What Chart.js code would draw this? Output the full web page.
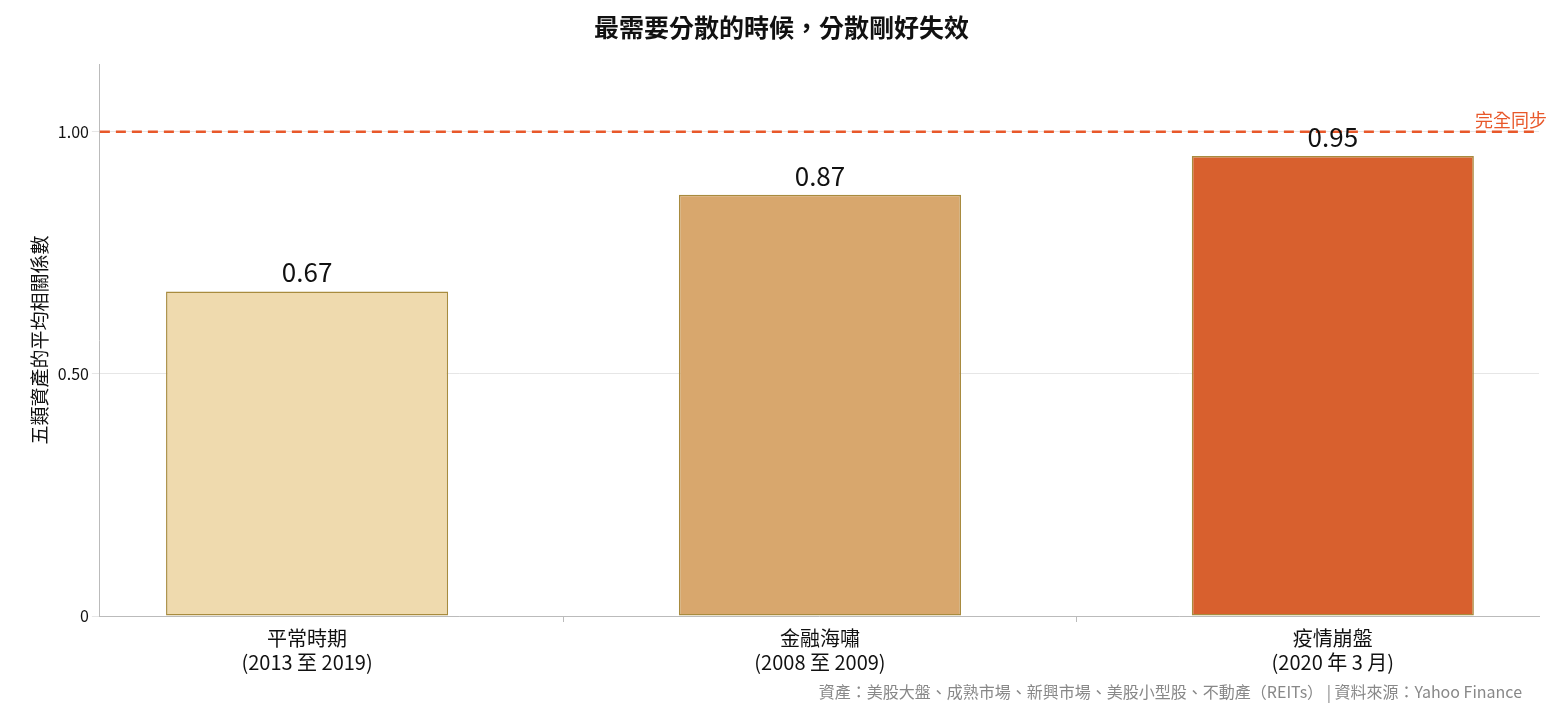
<!DOCTYPE html>
<html><head><meta charset="utf-8">
<script src="https://cdn.jsdelivr.net/npm/chart.js@4"></script>
<style>html,body{margin:0;padding:0;background:#fff}#w{width:1561px;height:716px;position:relative}</style>
</head><body><div id="w"><canvas id="c"></canvas></div>
<script>
const categories=[["平常時期","(2013 至 2019)"],["金融海嘯","(2008 至 2009)"],["疫情崩盤","(2020 年 3 月)"]];
const values=[0.67,0.87,0.95];
const valueLabels=["0.67","0.87","0.95"];
const colors=["#EFDAAE","#D8A76D","#D8602E"];
const refValue=1.0;
const refLabel="完全同步";
const yTicks=[0,0.5,1.0];
const yTickLabels=["0","0.50","1.00"];
const F='"Noto Sans CJK TC","Noto Sans",sans-serif';
const plug={id:'p',afterDatasetsDraw(ch){
 const {ctx,chartArea:a,scales:{x,y}}=ch;
 ctx.save();
 const yy=y.getPixelForValue(refValue);
 ctx.strokeStyle='#E8582A';ctx.lineWidth=2.5;ctx.setLineDash([10,6]);
 ctx.beginPath();ctx.moveTo(a.left,yy);ctx.lineTo(a.right,yy);ctx.stroke();ctx.setLineDash([]);
 ctx.fillStyle='#E8582A';ctx.font='18px '+F;ctx.textAlign='right';ctx.textBaseline='bottom';
 ctx.fillText(refLabel,a.right+8,yy-3);
 ctx.fillStyle='#111';ctx.font='26px '+F;ctx.textAlign='center';
 ch.getDatasetMeta(0).data.forEach((b,i)=>ctx.fillText(valueLabels[i],b.x,b.y-6));
 ctx.fillStyle='#888';ctx.font='16px '+F;ctx.textAlign='right';ctx.textBaseline='alphabetic';
 ctx.fillText('資產：美股大盤、成熟市場、新興市場、美股小型股、不動產（REITs） | 資料來源：Yahoo Finance',1522,698);
 ctx.restore();}};
new Chart(document.getElementById('c'),{type:'bar',
 data:{datasets:[{data:values.map((v,i)=>({x:i,y:v})),backgroundColor:colors,borderColor:'#A88B3E',borderWidth:1.5,borderSkipped:false,categoryPercentage:1,barPercentage:0.55}]},
 options:{responsive:true,maintainAspectRatio:false,animation:false,
  layout:{padding:{left:24,right:22,top:8,bottom:38}},
  plugins:{legend:{display:false},tooltip:{enabled:false},
   title:{display:true,text:'最需要分散的時候，分散剛好失效',font:{family:F,size:25,weight:'bold'},color:'#111',padding:{top:4,bottom:22}}},
  scales:{
   x:{type:'linear',min:-0.404,max:2.402,offset:false,afterBuildTicks(s){s.ticks=categories.map((c,i)=>({value:i}));},
    grid:{drawOnChartArea:false,tickLength:6,color:'#bbb'},border:{color:'#bbb'},
    ticks:{color:'#111',font:{family:F,size:20},padding:4,callback:(v)=>categories[v]||''}},
   y:{min:0,max:1.14,afterBuildTicks(s){s.ticks=yTicks.map(v=>({value:v}));},
    ticks:{color:'#111',font:{family:F,size:16},callback:(v)=>{const i=yTicks.indexOf(v);return i>=0?yTickLabels[i]:'';}},
    grid:{color:'#e6e6e6'},border:{color:'#bbb'},
    title:{display:true,text:'五類資產的平均相關係數',color:'#111',font:{family:F,size:19}}}}},
 plugins:[plug]});
</script></body></html>
